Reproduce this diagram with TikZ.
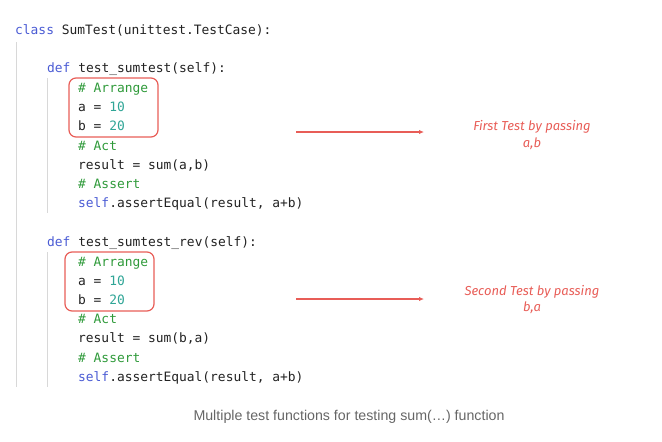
\documentclass[tikz,border=0pt]{standalone}
\usepackage{fontspec}
\usepackage{xcolor}
\usetikzlibrary{positioning, arrows.meta}
\setmonofont{DejaVu Sans Mono}
\newfontfamily\notefont{Fira Sans}
\newfontfamily\capfont{Liberation Sans}

\definecolor{kwblue}{HTML}{4A5BD4}
\definecolor{cmtgreen}{HTML}{2F9A3A}
\definecolor{numteal}{HTML}{2FA596}
\definecolor{markred}{HTML}{E85D57}
\definecolor{guidegray}{HTML}{D8D8D8}
\definecolor{codeink}{HTML}{222222}

\newcommand{\kw}[1]{\textcolor{kwblue}{#1}}
\newcommand{\cmt}[1]{\textcolor{cmtgreen}{#1}}
\newcommand{\num}[1]{\textcolor{numteal}{#1}}

\begin{document}
\begin{tikzpicture}[
    x=1pt, y=-1pt,
    code/.style={anchor=base west, inner sep=0pt, text=codeink, font=\ttfamily\fontsize{12.9}{14}\selectfont},
    guide/.style={guidegray, line width=1pt},
    marker/.style={draw=markred, line width=1.2pt, rounded corners=7pt},
    pointer/.style={-{Latex[length=5pt, width=4.5pt]}, markred, line width=1.4pt},
    note/.style={align=center, text=markred, inner sep=0pt, font=\notefont\itshape\fontsize{13}{16.5}\selectfont},
    caption/.style={text=black!60, inner sep=0pt, font=\capfont\fontsize{14.2}{16}\selectfont}
]
\useasboundingbox (0,0) rectangle (662,442);

\node[code] (cls) at (15, 34.5) {\kw{class} SumTest(unittest.TestCase):};

% first test
\node[code] (defa) at (47, 72.5) {\kw{def} test\_sumtest(self):};
\node[code] (arrA) at (78, 92.5) {\cmt{\# Arrange}};
\node[code] (setaA) at (78, 111.5) {a = \num{10}};
\node[code] (setbA) at (78, 130.5) {b = \num{20}};
\node[code] (actA) at (78, 150.5) {\cmt{\# Act}};
\node[code] (resA) at (78, 169.5) {result = sum(a,b)};
\node[code] (assA) at (78, 188.5) {\cmt{\# Assert}};
\node[code] (eqA) at (78, 207.5) {\kw{self}.assertEqual(result, a+b)};

% second test
\node[code] (defb) at (47, 246.5) {\kw{def} test\_sumtest\_rev(self):};
\node[code] (arrB) at (78, 266.5) {\cmt{\# Arrange}};
\node[code] (setaB) at (78, 285.5) {a = \num{10}};
\node[code] (setbB) at (78, 304.5) {b = \num{20}};
\node[code] (actB) at (78, 323.5) {\cmt{\# Act}};
\node[code] (resB) at (78, 342.5) {result = sum(b,a)};
\node[code] (assB) at (78, 362.5) {\cmt{\# Assert}};
\node[code] (eqB) at (78, 381.5) {\kw{self}.assertEqual(result, a+b)};

% indent guides
\draw[guide] (16, 42) -- (16, 387);
\draw[guide] (47, 78) -- (47, 213);
\draw[guide] (47, 252) -- (47, 387);

% arrange boxes
\draw[marker] (69, 78) rectangle (158, 137);
\draw[marker] (65, 252) rectangle (154, 311);

% notes
\node[note] (noteA) at (532, 135) {First Test by passing\\a,b};
\node[note] (noteB) at (532, 299.5) {Second Test by passing\\b,a};

\coordinate (fromA) at (296, 132);
\coordinate (toA) at (424, 132);
\coordinate (fromB) at (296, 299);
\coordinate (toB) at (424, 299);
\draw[pointer] (fromA) -- (toA);
\draw[pointer] (fromB) -- (toB);

\node[caption] (cap) at (349, 417) {Multiple test functions for testing sum(…) function};

\end{tikzpicture}
\end{document}
